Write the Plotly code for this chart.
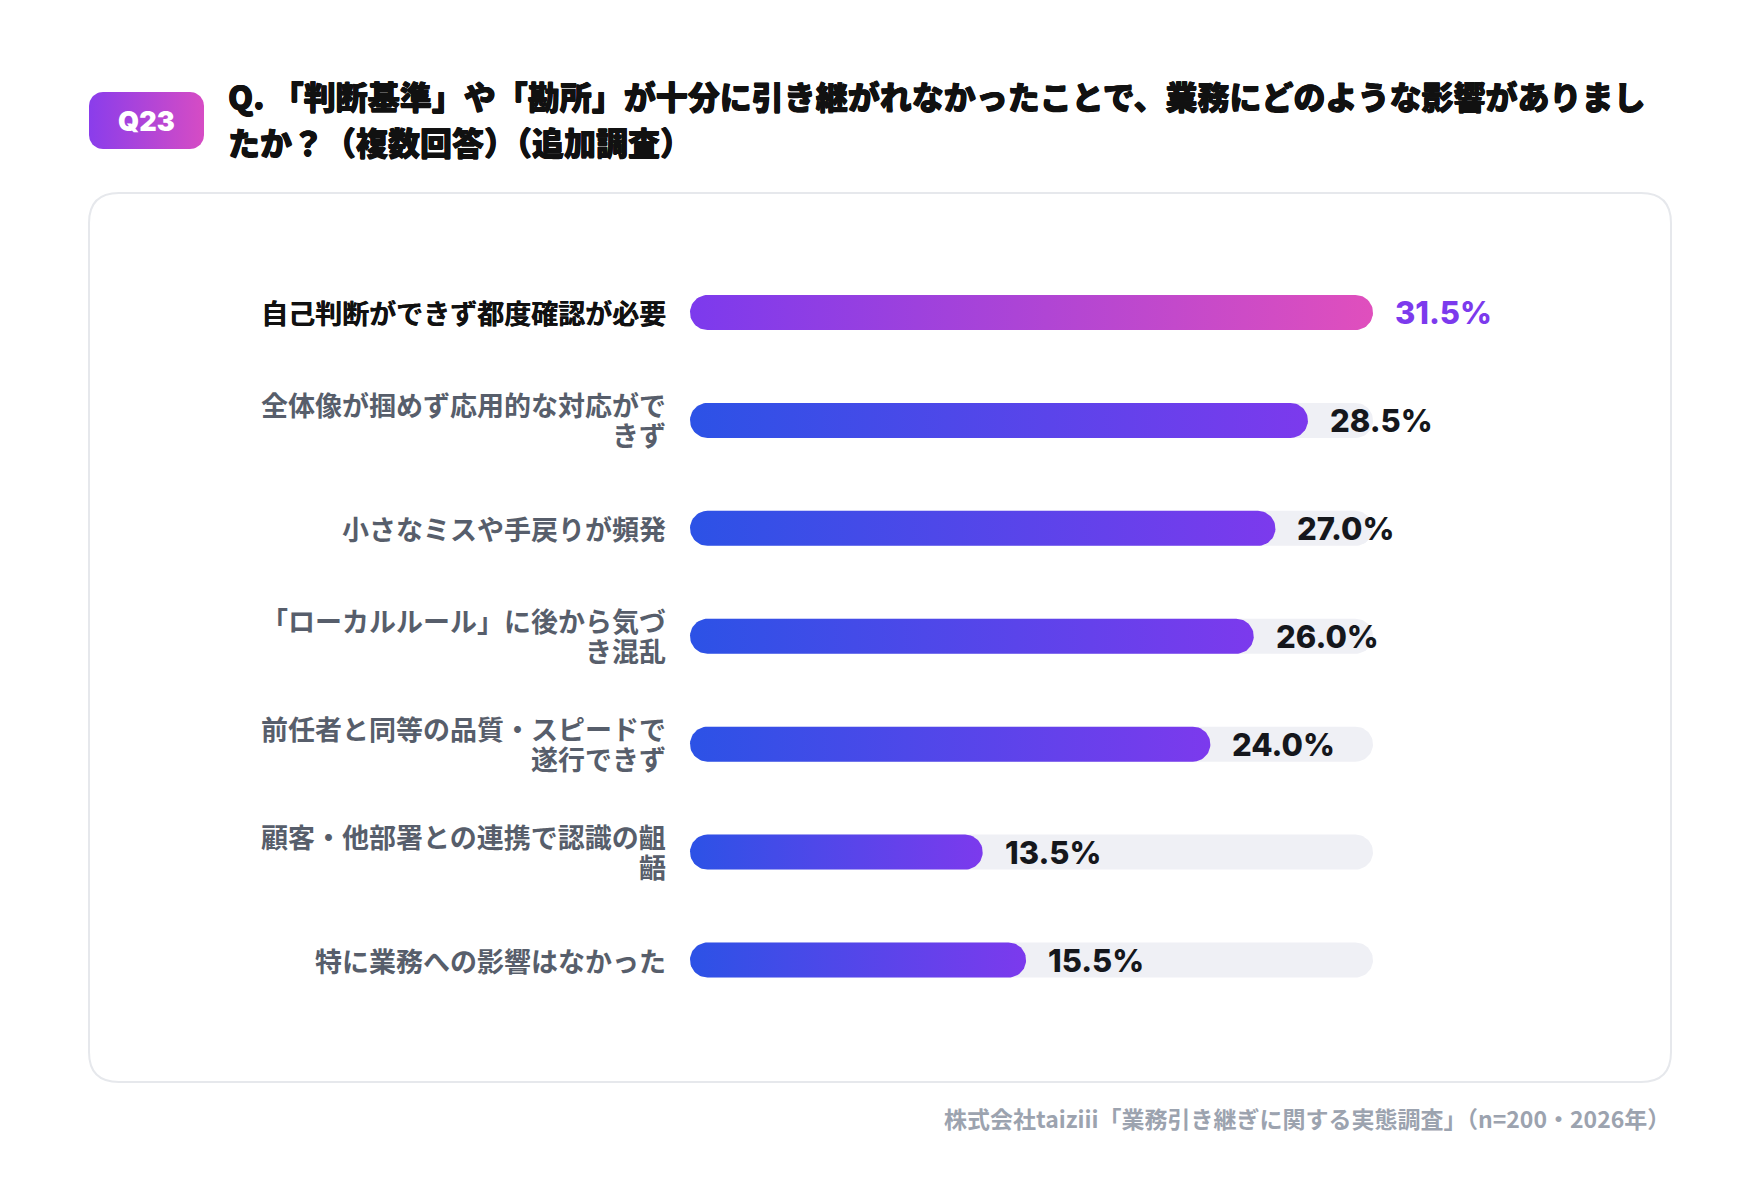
import numpy as np
import plotly.graph_objects as go

# データ
categories = [
    "自己判断ができず都度確認が必要",
    "全体像が掴めず応用的な対応がで\nきず",
    "小さなミスや手戻りが頻発",
    "「ローカルルール」に後から気づ\nき混乱",
    "前任者と同等の品質・スピードで\n遂行できず",
    "顧客・他部署との連携で認識の齟\n齬",
    "特に業務への影響はなかった",
]
values = [31.5, 28.5, 27.0, 26.0, 24.0, 13.5, 15.5]
value_labels = ["31.5%", "28.5%", "27.0%", "26.0%", "24.0%", "13.5%", "15.5%"]

title_line1 = "Q. 「判断基準」や「勘所」が十分に引き継がれなかったことで、業務にどのような影響がありまし"
title_line2 = "たか？（複数回答）（追加調査）"
badge_text = "Q23"
source_text = "株式会社taiziii「業務引き継ぎに関する実態調査」（n=200・2026年）"

# ページ上の配置（body の余白 8px を考慮）
OFF = 8
FW, FH = 1744, 1168


def px(x):
    return (x - OFF) / FW


def py(y):
    return 1 - (y - OFF) / FH


# 棒グラフの領域
X0, X1 = 680, 1400
Y0, Y1 = 250, 1030
BAR_L, BAR_R = 690, 1373
ROW0, ROWL = 312.5, 960
ROWH = (ROWL - ROW0) / (len(values) - 1)
vmax = max(values)
kx = (BAR_R - BAR_L) / vmax
xrange = [(X0 - BAR_L) / kx, vmax + (X1 - BAR_R) / kx]
yrange = [(Y1 - ROW0) / ROWH, (Y0 - ROW0) / ROWH]
R = 17.5
rx, ry = R / kx, R / ROWH


def pill(x_end, yc, n=30):
    t1 = np.linspace(-np.pi / 2, np.pi / 2, n)
    t2 = np.linspace(np.pi / 2, 3 * np.pi / 2, n)
    xs = np.concatenate([x_end - rx + rx * np.cos(t1), rx + rx * np.cos(t2)])
    ys = np.concatenate([yc + ry * np.sin(t1), yc + ry * np.sin(t2)])
    return np.append(xs, xs[0]), np.append(ys, ys[0])


fig = go.Figure()

# 背景トラック
for i, v in enumerate(values):
    xs, ys = pill(vmax, i)
    fig.add_trace(go.Scatter(
        x=xs, y=ys, mode="lines", fill="toself",
        fillcolor="#eff0f5", line=dict(width=0, color="#eff0f5"),
        hoverinfo="skip", showlegend=False,
    ))

# グラデーションの棒
for i, v in enumerate(values):
    xs, ys = pill(v, i)
    if i == 0:
        scale = [[0, "#7c3aed"], [1, "#e04fbd"]]
    else:
        scale = [[0, "#2c52e6"], [1, "#7c3aed"]]
    fig.add_trace(go.Scatter(
        x=xs, y=ys, mode="lines", fill="toself",
        fillgradient=dict(type="horizontal", colorscale=scale),
        line=dict(width=0, color="rgba(0,0,0,0)"),
        hoverinfo="skip", showlegend=False,
    ))

# Q23 バッジ（ピクセル座標の補助軸）
bx0, bx1, by0, by1, br = 89, 204, 92, 149, 14
corners = [
    (bx1 - br, by0 + br, -np.pi / 2, 0),
    (bx1 - br, by1 - br, 0, np.pi / 2),
    (bx0 + br, by1 - br, np.pi / 2, np.pi),
    (bx0 + br, by0 + br, np.pi, 3 * np.pi / 2),
]
bxs, bys = [], []
for cx, cy, a0, a1 in corners:
    t = np.linspace(a0, a1, 12)
    bxs.extend(cx + br * np.cos(t))
    bys.extend(cy + br * np.sin(t))
bxs.append(bxs[0])
bys.append(bys[0])
fig.add_trace(go.Scatter(
    x=bxs, y=bys, mode="lines", fill="toself",
    fillgradient=dict(type="horizontal", colorscale=[[0, "#8a3deb"], [1, "#d64cc4"]]),
    line=dict(width=0, color="rgba(0,0,0,0)"),
    xaxis="x2", yaxis="y2", hoverinfo="skip", showlegend=False,
))

annotations = []
jp = "Noto Sans CJK JP"
heavy = "0.6px 0 0 #111111, -0.5px 0 0 #111111, 0 0.5px 0 #111111"

# 項目ラベル
for i, cat in enumerate(categories):
    color = "#111111" if i == 0 else "#575e6b"
    lines = cat.split("\n")
    shifts = [0] if len(lines) == 1 else [16, -14]
    for line, s in zip(lines, shifts):
        annotations.append(dict(
            x=0, y=i, xref="x", yref="y", text=line, showarrow=False,
            xanchor="right", yanchor="middle", xshift=-22, yshift=s,
            font=dict(family=jp, size=27, color=color, weight=700,
                      shadow="0.4px 0 0 #111111" if i == 0 else "none"),
        ))

# 値ラベル
for i, (v, lab) in enumerate(zip(values, value_labels)):
    annotations.append(dict(
        x=v, y=i, xref="x", yref="y", text=lab, showarrow=False,
        xanchor="left", yanchor="middle", xshift=20,
        font=dict(family="Inter", size=31, weight=800,
                  color="#7c3aed" if i == 0 else "#15171c"),
    ))

# タイトル
for txt, yy in [(title_line1, 95), (title_line2, 141)]:
    annotations.append(dict(
        x=px(226), y=py(yy), xref="paper", yref="paper", text=txt,
        showarrow=False, xanchor="left", yanchor="middle",
        font=dict(family=jp, size=32, color="#111111", weight=900, shadow=heavy),
    ))

annotations.append(dict(
    x=px(146.5), y=py(121), xref="paper", yref="paper", text=badge_text,
    showarrow=False, xanchor="center", yanchor="middle",
    font=dict(family="Inter", size=27, color="white", weight=900),
))

# 出典
annotations.append(dict(
    x=px(1672), y=py(1118), xref="paper", yref="paper", text=source_text,
    showarrow=False, xanchor="right", yanchor="middle",
    font=dict(family=jp, size=23, color="#9ca3af", weight=700),
))

# カード枠
cx0, cx1, cy0, cy1, cr = 89, 1671, 193, 1082, 30
rxp, ryp = cr / FW, cr / FH
L, Rr, T, B = px(cx0), px(cx1), py(cy0), py(cy1)
card_path = (
    f"M {L + rxp} {T} L {Rr - rxp} {T} Q {Rr} {T} {Rr} {T - ryp} "
    f"L {Rr} {B + ryp} Q {Rr} {B} {Rr - rxp} {B} "
    f"L {L + rxp} {B} Q {L} {B} {L} {B + ryp} "
    f"L {L} {T - ryp} Q {L} {T} {L + rxp} {T} Z"
)

fig.update_layout(
    width=FW, height=FH,
    margin=dict(l=0, r=0, t=0, b=0),
    paper_bgcolor="white", plot_bgcolor="rgba(0,0,0,0)",
    xaxis=dict(domain=[px(X0), px(X1)], range=xrange, visible=False, fixedrange=True),
    yaxis=dict(domain=[py(Y1), py(Y0)], range=yrange, visible=False, fixedrange=True),
    xaxis2=dict(domain=[0, 1], range=[OFF, OFF + FW], visible=False, anchor="y2"),
    yaxis2=dict(domain=[0, 1], range=[OFF + FH, OFF], visible=False, anchor="x2"),
    shapes=[dict(type="path", path=card_path, xref="paper", yref="paper",
                 line=dict(color="#e6e8ec", width=2), fillcolor="white", layer="below")],
    annotations=annotations,
    showlegend=False,
)

fig.write_html("out.html", config={"displayModeBar": False})
